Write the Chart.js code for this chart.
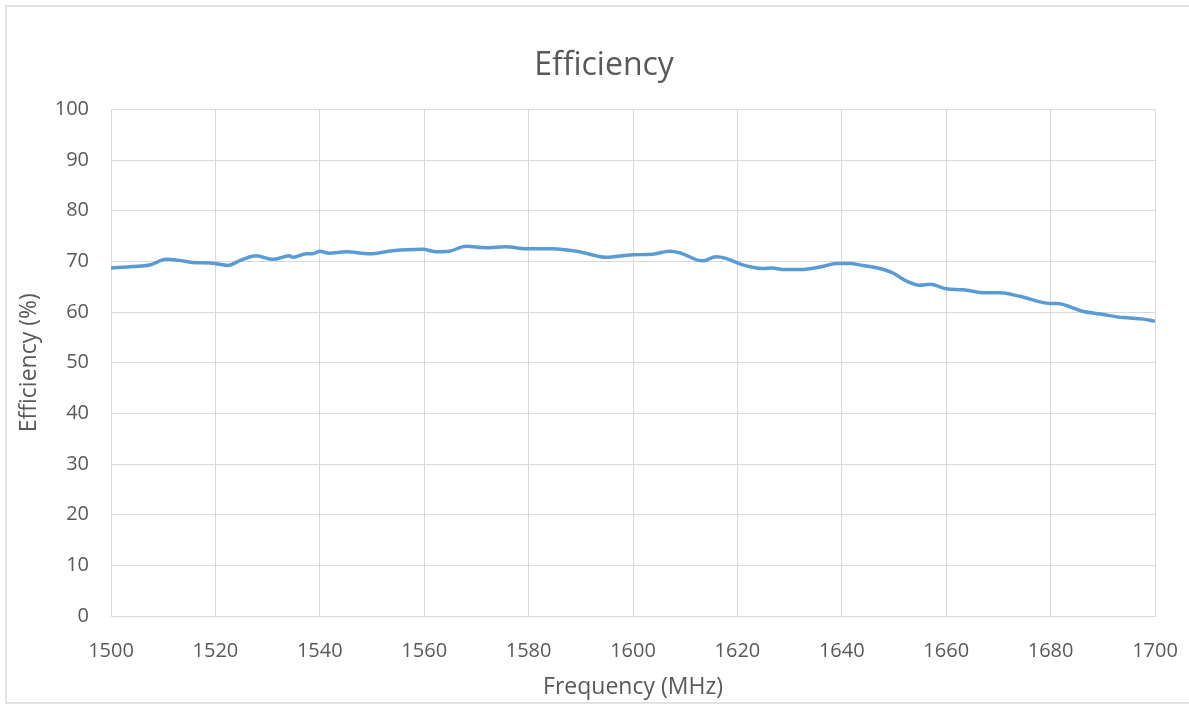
<!DOCTYPE html>
<html>
<head>
<meta charset="utf-8">
<script src="https://cdn.jsdelivr.net/npm/chart.js@4/dist/chart.umd.min.js"></script>
<style>
html,body{margin:0;padding:0;background:#fff;}
#wrap{position:relative;width:1189px;height:706px;}
</style>
</head>
<body>
<div id="wrap"><canvas id="c" width="1189" height="706"></canvas></div>
<script>
const frequency = [1500,1504.2,1507.4,1510.6,1513,1515.6,1518.9,1520.5,1522.3,1525,1527.8,1531,1534.2,1534.8,1537.4,1538.6,1540,1541.8,1545,1549.5,1553.9,1559.7,1562.3,1564.8,1568,1571.8,1575.6,1579.5,1584.6,1589.7,1594.8,1599.9,1603.7,1607,1608.9,1613.3,1615.9,1617.8,1621,1624.8,1626.7,1628.6,1632,1636.3,1638.9,1641.5,1644,1645.9,1648,1649.8,1652.4,1654.9,1656.9,1660,1663.2,1667.7,1670.3,1674.1,1679.9,1681.2,1686.3,1689.5,1693.9,1697.8,1700];
const efficiency = [68.7,69.0,69.3,70.4,70.2,69.8,69.7,69.5,69.2,70.3,71.1,70.4,71.1,70.8,71.5,71.5,72.0,71.6,71.9,71.5,72.1,72.4,71.9,72.0,73.0,72.7,72.9,72.5,72.5,71.9,70.8,71.3,71.4,72.0,71.7,70.1,70.9,70.6,69.3,68.6,68.7,68.4,68.4,69.0,69.6,69.6,69.2,68.9,68.4,67.7,66.1,65.3,65.5,64.6,64.4,63.8,63.8,63.1,61.7,61.7,60.1,59.6,58.9,58.6,58.2];
const xTicks = [1500,1520,1540,1560,1580,1600,1620,1640,1660,1680,1700];
const yTicks = [0,10,20,30,40,50,60,70,80,90,100];

const FONT = "'Open Sans', 'Noto Sans', sans-serif";
const TXT = '#595959';
const GRID = '#d9d9d9';

const borderPlugin = {
  id: 'outerBorder',
  beforeDraw(chart) {
    const ctx = chart.ctx;
    ctx.save();
    ctx.fillStyle = '#fff';
    ctx.fillRect(0,0,chart.width,chart.height);
    ctx.strokeStyle = GRID;
    ctx.lineWidth = 1.5;
    ctx.strokeRect(6, 6, 1200, 697);
    ctx.restore();
  }
};

new Chart(document.getElementById('c'), {
  type: 'line',
  data: {
    datasets: [{
      data: frequency.map((f, i) => ({x: f, y: efficiency[i]})),
      borderColor: '#5b9bd5',
      borderWidth: 3.5,
      pointRadius: 0,
      tension: 0.4,
      cubicInterpolationMode: 'monotone',
      fill: false
    }]
  },
  options: {
    responsive: false,
    animation: false,
    devicePixelRatio: 1,
    layout: { padding: { left: 53, right: 34, top: 0, bottom: 0 } },
    plugins: {
      legend: { display: false },
      tooltip: { enabled: false },
      title: {
        display: true,
        text: 'Efficiency',
        color: TXT,
        font: { family: FONT, size: 32, weight: 'normal' },
        padding: { top: 47, bottom: 24 }
      }
    },
    scales: {
      x: {
        type: 'linear',
        min: 1500, max: 1700,
        afterBuildTicks(scale) { scale.ticks = xTicks.map(v => ({value: v})); },
        afterFit(scale) { scale.height = 90; scale.paddingLeft = 0; scale.paddingRight = 0; },
        grid: { color: GRID, lineWidth: 1, drawTicks: false },
        border: { color: GRID, width: 1 },
        ticks: { color: TXT, font: { family: FONT, size: 20 }, padding: 23, maxRotation: 0, autoSkip: false,
          callback: v => String(v) },
        title: { display: true, text: 'Frequency (MHz)', color: TXT, font: { family: FONT, size: 23 }, padding: { top: 0, bottom: 5 } }
      },
      y: {
        type: 'linear',
        min: 0, max: 100,
        afterBuildTicks(scale) { scale.ticks = yTicks.map(v => ({value: v})); },
        afterFit(scale) { scale.width = 58; scale.paddingTop = 0; scale.paddingBottom = 0; },
        grid: { color: GRID, lineWidth: 1, drawTicks: false },
        border: { display: false },
        ticks: { color: TXT, font: { family: FONT, size: 20 }, padding: 22, callback: v => String(v) },
        title: { display: true, text: 'Efficiency (%)', color: TXT, font: { family: FONT, size: 23 }, padding: { top: -37, bottom: 0 } }
      }
    }
  },
  plugins: [borderPlugin]
});
</script>
</body>
</html>
